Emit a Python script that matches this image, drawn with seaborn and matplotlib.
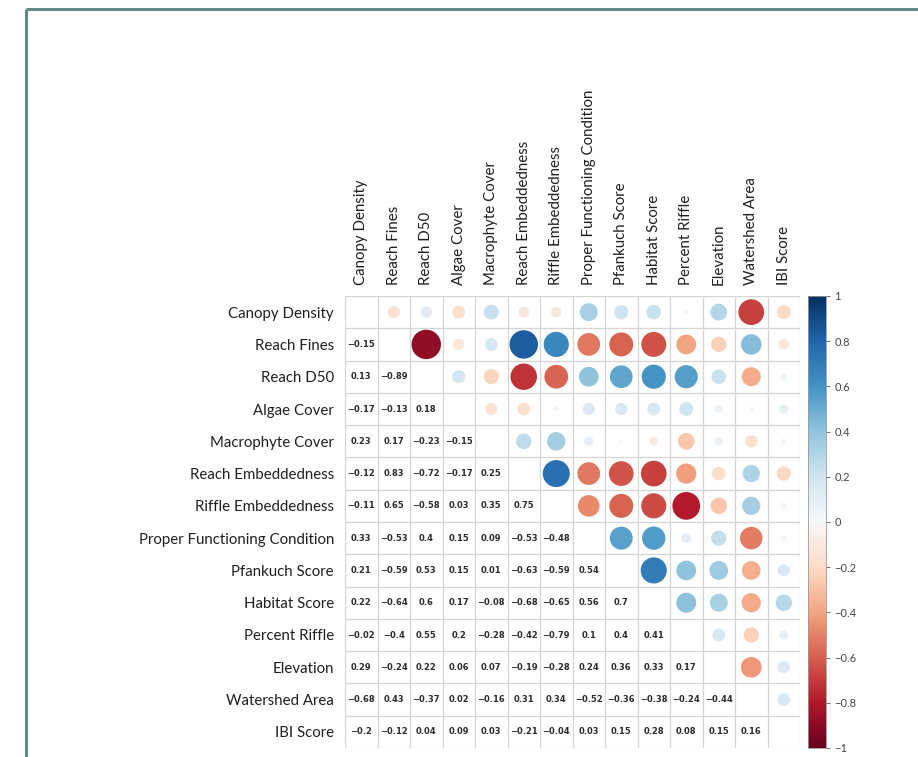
import numpy as np
import pandas as pd
import matplotlib
matplotlib.use("Agg")
import matplotlib.pyplot as plt
import seaborn as sns
from matplotlib.colors import Normalize
from matplotlib.cm import ScalarMappable
from matplotlib.lines import Line2D

variables = [
    "Canopy Density", "Reach Fines", "Reach D50", "Algae Cover",
    "Macrophyte Cover", "Reach Embeddedness", "Riffle Embeddedness",
    "Proper Functioning Condition", "Pfankuch Score", "Habitat Score",
    "Percent Riffle", "Elevation", "Watershed Area", "IBI Score",
]

# lower-triangle correlations, row by row (row i holds columns 0..i-1)
lower_rows = [
    [],
    [-0.15],
    [0.13, -0.89],
    [-0.17, -0.13, 0.18],
    [0.23, 0.17, -0.23, -0.15],
    [-0.12, 0.83, -0.72, -0.17, 0.25],
    [-0.11, 0.65, -0.58, 0.03, 0.35, 0.75],
    [0.33, -0.53, 0.4, 0.15, 0.09, -0.53, -0.48],
    [0.21, -0.59, 0.53, 0.15, 0.01, -0.63, -0.59, 0.54],
    [0.22, -0.64, 0.6, 0.17, -0.08, -0.68, -0.65, 0.56, 0.7],
    [-0.02, -0.4, 0.55, 0.2, -0.28, -0.42, -0.79, 0.1, 0.4, 0.41],
    [0.29, -0.24, 0.22, 0.06, 0.07, -0.19, -0.28, 0.24, 0.36, 0.33, 0.17],
    [-0.68, 0.43, -0.37, 0.02, -0.16, 0.31, 0.34, -0.52, -0.36, -0.38, -0.24, -0.44],
    [-0.2, -0.12, 0.04, 0.09, 0.03, -0.21, -0.04, 0.03, 0.15, 0.28, 0.08, 0.15, 0.16],
]

colorbar_ticks = [1, 0.8, 0.6, 0.4, 0.2, 0, -0.2, -0.4, -0.6, -0.8, -1]

n = len(variables)
corr = np.eye(n)
for i, row in enumerate(lower_rows):
    for j, v in enumerate(row):
        corr[i, j] = v
        corr[j, i] = v

# circles go in the upper triangle
upper = pd.DataFrame(
    [(j, i, corr[i, j], abs(corr[i, j])) for i in range(n) for j in range(i + 1, n)],
    columns=["col", "row", "r", "absr"],
)

sns.set_theme(style="white")
plt.rcParams["font.family"] = ["Lato", "DejaVu Sans"]

W, H = 918, 757
fig = plt.figure(figsize=(W / 100, H / 100), dpi=100)
fig.patch.set_facecolor("white")

# outer frame along the top and left edges
frame_col = "#5e8c82"
fig.add_artist(Line2D([26 / W, 1.0], [1 - 9 / H, 1 - 9 / H], color=frame_col, lw=2.2,
                      transform=fig.transFigure, solid_capstyle="butt"))
fig.add_artist(Line2D([26 / W, 26 / W], [1 - 9 / H, 0.0], color=frame_col, lw=2.2,
                      transform=fig.transFigure, solid_capstyle="butt"))

ax_l, ax_r, ax_t, ax_b = 345, 800, 296, 748
ax = fig.add_axes([ax_l / W, 1 - ax_b / H, (ax_r - ax_l) / W, (ax_b - ax_t) / H])

cmap = plt.get_cmap("RdBu")
cell_pt = (ax_r - ax_l) / n * 0.72
max_size = (0.96 * cell_pt) ** 2

sns.scatterplot(
    data=upper, x="col", y="row", hue="r", size="absr",
    palette="RdBu", hue_norm=(-1, 1), sizes=(0, max_size), size_norm=(0, 1),
    linewidth=0, legend=False, ax=ax, zorder=3,
)

# coefficients printed in the lower triangle
for i in range(n):
    for j in range(i):
        v = corr[i, j]
        ax.text(j, i, f"{v:g}".replace("-", "\u2212"), ha="center", va="center",
                fontsize=6, fontweight="bold", color="#2b2b2b",
                family=["DejaVu Sans"], zorder=4)

# cell grid
for k in range(n + 1):
    ax.axhline(k - 0.5, color="#d4d4d4", lw=0.9, zorder=1)
    ax.axvline(k - 0.5, color="#d4d4d4", lw=0.9, zorder=1)

ax.set_xlim(-0.5, n - 0.5)
ax.set_ylim(n - 0.5, -0.5)
ax.set_xlabel("")
ax.set_ylabel("")
ax.set_xticks(range(n))
ax.set_yticks(range(n))
ax.xaxis.tick_top()
ax.set_xticklabels(variables, rotation=90, fontsize=10.8, color="#1f1f1f")
ax.set_yticklabels(variables, fontsize=10.8, color="#1f1f1f")
ax.tick_params(axis="both", length=0, pad=8)
for s in ax.spines.values():
    s.set_visible(False)

# colour bar
cax = fig.add_axes([808 / W, 1 - ax_b / H, 18 / W, (ax_b - ax_t) / H])
sm = ScalarMappable(norm=Normalize(-1, 1), cmap=cmap)
cb = fig.colorbar(sm, cax=cax)
cb.set_ticks(colorbar_ticks)
cb.set_ticklabels([f"{t:g}".replace("-", "\u2212") for t in colorbar_ticks])
cb.outline.set_edgecolor("#9a9a9a")
cb.outline.set_linewidth(0.6)
cax.tick_params(length=3, width=0.6, color="#555555", labelsize=8, labelcolor="#444444", pad=3)

fig.savefig("out.png", dpi=100, facecolor="white")
